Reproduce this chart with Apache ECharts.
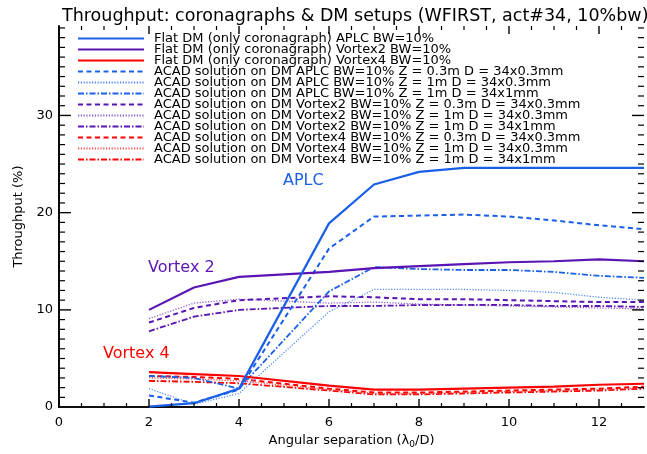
<!DOCTYPE html>
<html>
<head>
<meta charset="utf-8">
<script src="https://cdn.jsdelivr.net/npm/echarts@6/dist/echarts.min.js"></script>
<style>html,body{margin:0;padding:0;background:#fff}#c{width:647px;height:454px}</style>
</head>
<body>
<div id="c"></div>
<script>
// ---- data ----
const separations = [2, 3, 4, 6, 7, 8, 9, 10, 11, 12, 13];

const flatAPLC    = [0.05, 0.4, 1.9, 18.9, 22.9, 24.2, 24.6, 24.6, 24.6, 24.6, 24.6];
const flatVortex2 = [10.0, 12.3, 13.4, 13.9, 14.3, 14.5, 14.7, 14.9, 15.0, 15.2, 15.0];
const flatVortex4 = [3.6, 3.4, 3.2, 2.2, 1.8, 1.8, 1.9, 2.0, 2.1, 2.3, 2.4];

const aplcZ03D03 = [1.2, 0.45, 1.8, 16.3, 19.6, 19.7, 19.8, 19.6, 19.2, 18.7, 18.3];
const aplcZ1D03  = [1.9, 0.3, 1.4, 9.8, 12.1, 12.1, 12.1, 12.0, 11.8, 11.3, 11.0];
const aplcZ1D1   = [3.2, 3.0, 1.9, 11.9, 14.4, 14.2, 14.1, 14.1, 13.9, 13.5, 13.3];

const v2Z03D03 = [8.7, 10.2, 11.0, 11.4, 11.3, 11.1, 11.1, 11.0, 10.9, 10.8, 10.8];
const v2Z1D03  = [9.1, 10.7, 11.1, 10.7, 10.8, 10.6, 10.5, 10.4, 10.3, 10.2, 10.1];
const v2Z1D1   = [7.8, 9.3, 10.0, 10.4, 10.4, 10.5, 10.5, 10.5, 10.4, 10.4, 10.3];

const v4Z03D03 = [3.2, 3.1, 2.9, 1.9, 1.5, 1.5, 1.6, 1.7, 1.8, 1.9, 2.1];
const v4Z1D03  = [3.0, 2.9, 2.7, 1.8, 1.4, 1.4, 1.5, 1.6, 1.7, 1.8, 2.0];
const v4Z1D1   = [2.7, 2.6, 2.45, 1.7, 1.3, 1.3, 1.4, 1.5, 1.6, 1.7, 1.9];

const seriesNames = [
  'Flat DM (only coronagraph) APLC BW=10%',
  'Flat DM (only coronagraph) Vortex2 BW=10%',
  'Flat DM (only coronagraph) Vortex4 BW=10%',
  'ACAD solution on DM APLC BW=10% Z = 0.3m D = 34x0.3mm',
  'ACAD solution on DM APLC BW=10% Z = 1m D = 34x0.3mm',
  'ACAD solution on DM APLC BW=10% Z = 1m D = 34x1mm',
  'ACAD solution on DM Vortex2 BW=10% Z = 0.3m D = 34x0.3mm',
  'ACAD solution on DM Vortex2 BW=10% Z = 1m D = 34x0.3mm',
  'ACAD solution on DM Vortex2 BW=10% Z = 1m D = 34x1mm',
  'ACAD solution on DM Vortex4 BW=10% Z = 0.3m D = 34x0.3mm',
  'ACAD solution on DM Vortex4 BW=10% Z = 1m D = 34x0.3mm',
  'ACAD solution on DM Vortex4 BW=10% Z = 1m D = 34x1mm'
];
const seriesValues = [flatAPLC, flatVortex2, flatVortex4,
  aplcZ03D03, aplcZ1D03, aplcZ1D1,
  v2Z03D03, v2Z1D03, v2Z1D1,
  v4Z03D03, v4Z1D03, v4Z1D1];

const xTickValues = [0, 2, 4, 6, 8, 10, 12];
const yTickValues = [0, 10, 20, 30];
const X_MIN = 0, X_MAX = 13, X_MINOR = 0.5;
const Y_MIN = 0, Y_MAX = 39.2, Y_MINOR = 1;

// ---- styles ----
const BLUE = '#1a5fe8', PURPLE = '#5a14b4', RED = '#ff0000';
const BLUE_L = '#4f8af2', PURPLE_L = '#8d5ad2', RED_L = '#ff5050';
const DASH = [5, 3.5], DOT = [1.2, 1.6], DASHDOT = [6, 2, 1.5, 2];
const styles = [
  {c: BLUE, t: 'solid', w: 2.2}, {c: PURPLE, t: 'solid', w: 2.2}, {c: RED, t: 'solid', w: 2.2},
  {c: BLUE, t: DASH, w: 2}, {c: BLUE_L, t: DOT, w: 1.3}, {c: BLUE, t: DASHDOT, w: 1.8},
  {c: PURPLE, t: DASH, w: 2}, {c: PURPLE_L, t: DOT, w: 1.3}, {c: PURPLE, t: DASHDOT, w: 1.8},
  {c: RED, t: DASH, w: 2}, {c: RED_L, t: DOT, w: 1.3}, {c: RED, t: DASHDOT, w: 1.8}
];

const FONT = 'DejaVu Sans';
const series = seriesNames.map((n, i) => ({
  name: n, type: 'line', symbol: 'none', showSymbol: false, smooth: false,
  data: separations.map((x, k) => [x, seriesValues[i][k]]),
  lineStyle: {color: styles[i].c, type: styles[i].t, width: styles[i].w},
  itemStyle: {color: styles[i].c},
  z: 12 - i
}));

const axisLineStyle = {show: true, lineStyle: {color: '#000', width: 1.6}};
const noTicks = {axisTick: {show: false}, minorTick: {show: false}};
const labelTexts = [
  {type: 'text', left: 283, top: 173, style: {text: 'APLC', fill: BLUE, font: '16px "DejaVu Sans"'}},
  {type: 'text', left: 148, top: 260, style: {text: 'Vortex 2', fill: PURPLE, font: '16px "DejaVu Sans"'}},
  {type: 'text', left: 103, top: 346, style: {text: 'Vortex 4', fill: RED, font: '16px "DejaVu Sans"'}}
];
const chart = echarts.init(document.getElementById('c'), null, {renderer: 'canvas'});
chart.setOption({
  animation: false,
  backgroundColor: '#fff',
  title: {
    text: 'Throughput: coronagraphs & DM setups (WFIRST, act#34, 10%bw)',
    left: 57, top: 2,
    textStyle: {fontFamily: FONT, fontSize: 17.5, fontWeight: 'normal', color: '#000'}
  },
  grid: {left: 59, right: 3, top: 26, bottom: 45, containLabel: false},
  legend: {
    orient: 'vertical', left: 72, top: 27, itemGap: -2,
    itemWidth: 66, itemHeight: 11,
    itemStyle: {color: 'rgba(0,0,0,0)', borderWidth: 0, opacity: 0},
    textStyle: {fontFamily: FONT, fontSize: 13, color: '#000', lineHeight: 11, padding: [0, 0, 0, 5]},
    selectedMode: false,
    data: seriesNames
  },
  xAxis: [Object.assign({
    type: 'value', min: X_MIN, max: X_MAX, interval: 2,
    name: 'Angular separation (λ{s|0}/D)', nameLocation: 'middle', nameGap: 24,
    nameTextStyle: {fontFamily: FONT, fontSize: 13, color: '#000',
      rich: {s: {fontFamily: FONT, fontSize: 9, verticalAlign: 'bottom', padding: [8, 0, 0, 0]}}},
    axisLine: axisLineStyle,
    axisLabel: {fontFamily: FONT, fontSize: 13, color: '#000', margin: 9, showMaxLabel: false,
      formatter: v => xTickValues.includes(v) ? String(v) : ''},
    splitLine: {show: false}
  }, noTicks), Object.assign({
    type: 'value', min: X_MIN, max: X_MAX, interval: 2, position: 'top',
    axisLine: axisLineStyle,
    axisLabel: {show: false}, splitLine: {show: false}
  }, noTicks)],
  yAxis: [Object.assign({
    type: 'value', min: Y_MIN, max: Y_MAX, interval: 10,
    name: 'Throughput (%)', nameLocation: 'middle', nameGap: 34,
    nameTextStyle: {fontFamily: FONT, fontSize: 13, color: '#000'},
    axisLine: axisLineStyle,
    axisLabel: {fontFamily: FONT, fontSize: 13, color: '#000', margin: 6, showMaxLabel: false,
      formatter: v => yTickValues.includes(v) ? String(v) : ''},
    splitLine: {show: false}
  }, noTicks), Object.assign({
    type: 'value', min: Y_MIN, max: Y_MAX, interval: 10, position: 'right',
    axisLine: axisLineStyle,
    axisLabel: {show: false}, splitLine: {show: false}
  }, noTicks)],
  graphic: labelTexts,
  series: series
});

// inward-pointing ticks on all four sides, placed through the axes' own scales
const tickEls = [];
const yBot = chart.convertToPixel({yAxisIndex: 0}, Y_MIN);
const yTop = chart.convertToPixel({yAxisIndex: 0}, Y_MAX);
const xL = chart.convertToPixel({xAxisIndex: 0}, X_MIN);
const xR = chart.convertToPixel({xAxisIndex: 0}, X_MAX);
const tickStyle = w => ({stroke: '#000', lineWidth: w});
for (let i = 1; X_MIN + i * X_MINOR < X_MAX - 1e-9; i++) {
  const v = X_MIN + i * X_MINOR;
  const major = Math.abs(v / 2 - Math.round(v / 2)) < 1e-9;
  const len = major ? 8 : 4;
  const px = chart.convertToPixel({xAxisIndex: 0}, v);
  tickEls.push({type: 'line', silent: true, z: 50, shape: {x1: px, y1: yBot, x2: px, y2: yBot - len}, style: tickStyle(major ? 1.4 : 1.2)});
  tickEls.push({type: 'line', silent: true, z: 50, shape: {x1: px, y1: yTop, x2: px, y2: yTop + len}, style: tickStyle(major ? 1.4 : 1.2)});
}
for (let i = 1; Y_MIN + i * Y_MINOR < Y_MAX - 1e-9; i++) {
  const v = Y_MIN + i * Y_MINOR;
  const major = Math.abs(v / 10 - Math.round(v / 10)) < 1e-9;
  const len = major ? 12 : 6;
  const py = chart.convertToPixel({yAxisIndex: 0}, v);
  tickEls.push({type: 'line', silent: true, z: 50, shape: {x1: xL, y1: py, x2: xL + len, y2: py}, style: tickStyle(major ? 1.4 : 1.2)});
  tickEls.push({type: 'line', silent: true, z: 50, shape: {x1: xR, y1: py, x2: xR - len, y2: py}, style: tickStyle(major ? 1.4 : 1.2)});
}
chart.setOption({graphic: labelTexts.concat(tickEls)});
</script>
</body>
</html>
